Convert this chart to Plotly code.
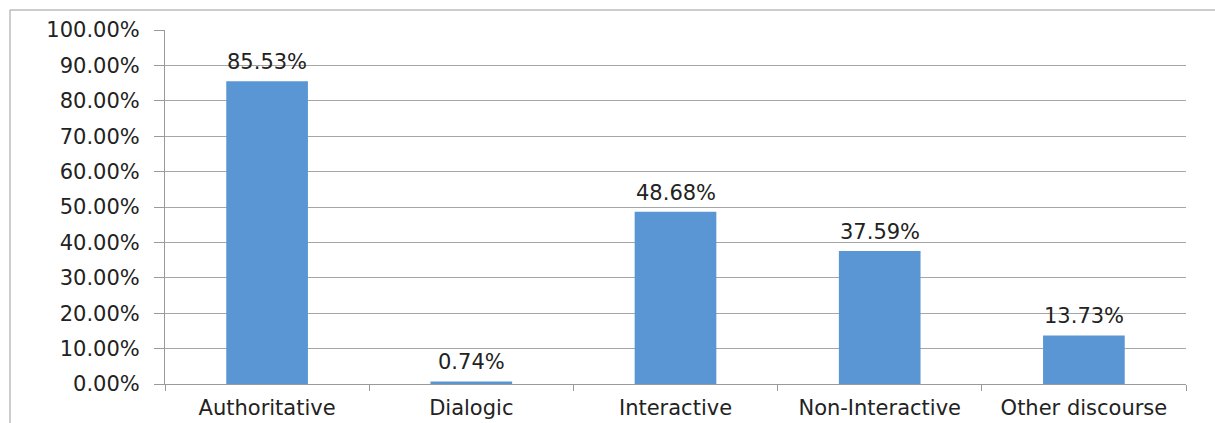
import plotly.graph_objects as go

categories = ["Authoritative", "Dialogic", "Interactive", "Non-Interactive", "Other discourse"]
values = [0.8553, 0.0074, 0.4868, 0.3759, 0.1373]
labels = ["85.53%", "0.74%", "48.68%", "37.59%", "13.73%"]

W, H = 1215, 423
L, R, T, B = 165, 29, 30, 39
pw = W - L - R
ph = H - T - B

fig = go.Figure(go.Bar(
    x=categories, y=values,
    width=0.4, marker=dict(color="#5a96d3", line=dict(width=0)),
    hoverinfo="x+y",
))

for c, v, t in zip(categories, values, labels):
    fig.add_annotation(x=c, y=v, text=t, showarrow=False, yanchor="bottom",
                       yshift=5, font=dict(size=21, color="#222222", family="DejaVu Sans"))

fig.update_layout(
    width=W, height=H, margin=dict(l=L, r=R, t=T, b=B, autoexpand=False),
    paper_bgcolor="white", plot_bgcolor="white",
    font=dict(family="DejaVu Sans", size=20, color="#222222"),
    showlegend=False,
    xaxis=dict(showline=True, linecolor="#9a9a9a", linewidth=1, ticks="outside",
               tickson="boundaries", ticklen=6, tickcolor="#9a9a9a", automargin=False,
               tickfont=dict(size=21), showgrid=False, ticklabelstandoff=5),
    yaxis=dict(range=[0, 1], dtick=0.1, tickformat=".2%", showline=True,
               linecolor="#9a9a9a", linewidth=1, ticks="outside", ticklen=10,
               tickcolor="#9a9a9a", showgrid=True, gridcolor="#a6a6a6", gridwidth=1,
               tickfont=dict(size=21), zeroline=False, ticklabelstandoff=10,
               automargin=False),
    shapes=[
        dict(type="line", xref="paper", yref="paper",
             x0=(10 - L) / pw, x1=(W + 5 - L) / pw,
             y0=(H - B - 10) / ph, y1=(H - B - 10) / ph,
             line=dict(color="#9a9a9a", width=1)),
        dict(type="line", xref="paper", yref="paper",
             x0=(10 - L) / pw, x1=(10 - L) / pw,
             y0=(H - B - 10) / ph, y1=-(B + 5) / ph,
             line=dict(color="#9a9a9a", width=1)),
    ],
)

fig.write_html("out.html")
